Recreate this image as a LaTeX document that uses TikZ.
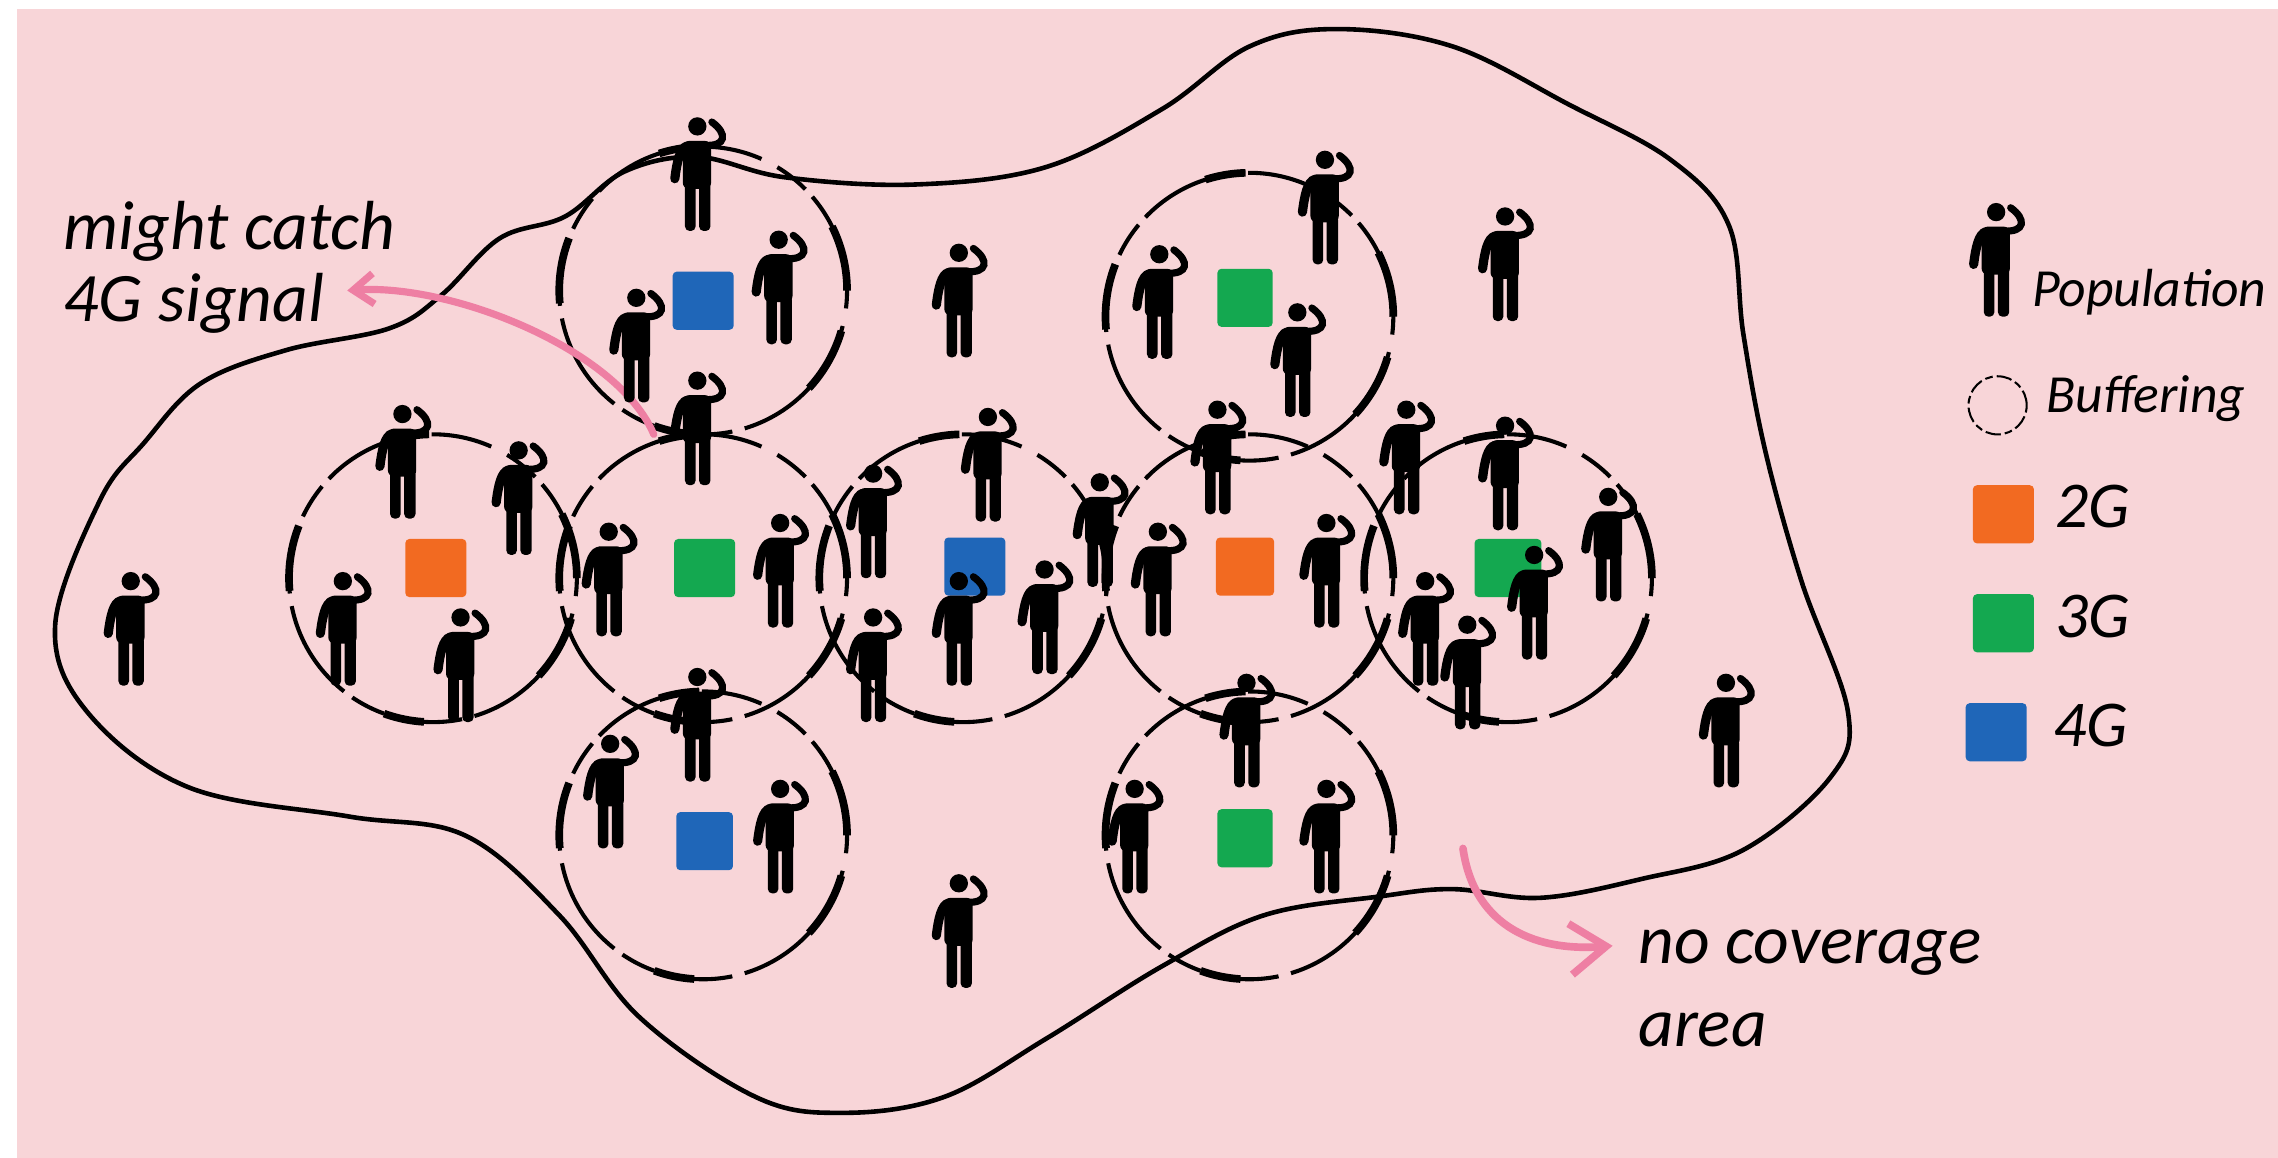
\documentclass[tikz,border=0pt]{standalone}
\usepackage{fontspec}
\setmainfont{Carlito}
\usetikzlibrary{arrows.meta}

\definecolor{bgpink}{HTML}{F8D5D8}
\definecolor{notepink}{HTML}{EE7FA3}
\definecolor{gtwo}{HTML}{F26A21}
\definecolor{gthree}{HTML}{14A850}
\definecolor{gfour}{HTML}{1F66B8}

\tikzset{person/.pic={
	\fill (0,0) circle [radius=6.3];
	\fill [rounded corners=1.2pt] (-10,10) rectangle (9.5,43);
	\fill [rounded corners=0.9pt] (-8.5,38) rectangle (-1.2,72);
	\fill [rounded corners=0.9pt] (1.2,38) rectangle (9,72);
	\draw [line width=1.8pt, line cap=round] (-7,13.5) .. controls (-12,15) and (-14,24) .. (-15.5,36);
	\draw [line width=1.4pt, line cap=round] (5,13) .. controls (20,14) and (21,5) .. (10,-3);
}}

\begin{document}
\begin{tikzpicture}[x=0.01cm, y=-0.01cm]
	\tikzstyle{buffcircle} = [circle, draw, inner sep=0pt, minimum size=1.98cm, line width=0.8pt,
		dash pattern=on 20pt off 2pt on 7pt off 3.5pt on 12pt off 2.5pt,
		preaction={draw, line width=1.5pt, dash pattern=on 13pt off 32pt on 8pt off 25pt}]
	\tikzstyle{buffkey} = [circle, draw, inner sep=0pt, minimum size=0.4cm, line width=0.4pt, dash pattern=on 3pt off 0.8pt on 1.5pt off 0.8pt]
	\tikzstyle{gbox} = [rectangle, inner sep=0pt, minimum width=0.42cm, minimum height=0.40cm, rounded corners=0.8pt]
	\tikzstyle{coverage} = [line width=0.9pt, line join=round]
	\tikzstyle{note} = [anchor=base west, inner sep=0pt, font=\fontsize{13.6}{16}\selectfont\itshape]
	\tikzstyle{keytext} = [anchor=base west, inner sep=0pt, font=\fontsize{10.5}{12}\selectfont\itshape]
	\tikzstyle{gtext} = [anchor=base west, inner sep=0pt, font=\fontsize{12.8}{16}\selectfont\itshape]
	\tikzstyle{notearrow} = [notepink, line width=1.4pt, line cap=round, ->, >={Straight Barb[length=4pt, width=6pt]}]
	\tikzstyle{bigarrow} = [notepink, line width=1.5pt, line cap=round, ->, >={Straight Barb[length=7pt, width=10pt]}]

	\useasboundingbox (0,0) rectangle (1568,797);
	\fill [bgpink] (12,6) rectangle (1568,797);

	% no coverage outline
	\draw [coverage] plot [smooth cycle, tension=0.6] coordinates {
		(480,108) (540,122) (630,127) (720,115) (800,75) (860,32) (920,20) (1000,32)
		(1080,72) (1150,110) (1190,155) (1200,230) (1215,310) (1240,400) (1272,490)
		(1260,535) (1200,585) (1130,605) (1060,618) (1000,612) (950,617) (870,630)
		(800,665) (720,715) (650,755) (580,766) (520,755) (440,700) (385,630) (320,575)
		(240,562) (130,542) (60,490) (38,430) (69,344) (99,305) (138,264) (197,241)
		(268,226) (304,203) (344,164) (389,149) (430,118)};

	% cells
	\node [buffcircle] (celltop) at (484,200) {};
	\node [buffcircle] (celltopright) at (860,218) {};
	\node [buffcircle] (cellleft) at (298,398) {};
	\node [buffcircle] (cellcentre) at (484,398) {};
	\node [buffcircle] (cellmiddle) at (663,398) {};
	\node [buffcircle] (cellcentreright) at (860,398) {};
	\node [buffcircle] (cellright) at (1038,398) {};
	\node [buffcircle] (cellbottom) at (484,575) {};
	\node [buffcircle] (cellbottomright) at (860,575) {};

	% towers
	\node [gbox, fill=gfour] (towertop) at (484,207) {};
	\node [gbox, fill=gthree, minimum width=0.38cm] (towertopright) at (857,205) {};
	\node [gbox, fill=gtwo] (towerleft) at (300,391) {};
	\node [gbox, fill=gthree] (towercentre) at (485,391) {};
	\node [gbox, fill=gfour] (towermiddle) at (671,390) {};
	\node [gbox, fill=gtwo, minimum width=0.40cm] (towercentreright) at (857,390) {};
	\node [gbox, fill=gthree, minimum width=0.46cm] (towerright) at (1038,391) {};
	\node [gbox, fill=gfour, minimum width=0.39cm] (towerbottom) at (485,579) {};
	\node [gbox, fill=gthree, minimum width=0.38cm] (towerbottomright) at (857,577) {};

	% labels and arrows
	\node [note] (might) at (43,172) {might catch};
	\node [note] (signal) at (43,221) {4G signal};
	\node [note] (nocover) at (1127,663) {no coverage};
	\node [note] (area) at (1127,720) {area};
	\coordinate (signalstart) at (450,299);
	\coordinate (signalend) at (239,200);
	\coordinate (coverstart) at (1007,584);
	\coordinate (coverend) at (1110,651);
	\draw [notearrow] (signalstart) .. controls (425,240) and (310,195) .. (signalend);
	\draw [bigarrow] (coverstart) .. controls (1015,640) and (1060,655) .. (coverend);

	% people
	\pic at (480,87) {person};
	\pic at (536,165) {person};
	\pic at (438,205) {person};
	\pic at (480,262) {person};
	\pic at (660,174) {person};
	\pic at (912,110) {person};
	\pic at (798,175) {person};
	\pic at (893,215) {person};
	\pic at (1036,149) {person};
	\pic at (277,285) {person};
	\pic at (357,310) {person};
	\pic at (236,400) {person};
	\pic at (317,425) {person};
	\pic at (419,366) {person};
	\pic at (537,360) {person};
	\pic at (601,326) {person};
	\pic at (680,287) {person};
	\pic at (757,332) {person};
	\pic at (660,400) {person};
	\pic at (719,392) {person};
	\pic at (601,425) {person};
	\pic at (838,282) {person};
	\pic at (797,366) {person};
	\pic at (913,360) {person};
	\pic at (968,282) {person};
	\pic at (1036,293) {person};
	\pic at (1107,342) {person};
	\pic at (1056,382) {person};
	\pic at (981,400) {person};
	\pic at (1010,430) {person};
	\pic at (480,466) {person};
	\pic at (420,512) {person};
	\pic at (537,543) {person};
	\pic at (858,470) {person};
	\pic at (781,543) {person};
	\pic at (913,543) {person};
	\pic at (90,400) {person};
	\pic at (660,608) {person};
	\pic at (1188,470) {person};

	% legend
	\pic at (1374,146) {person};
	\node [keytext] (population) at (1398,211) {Population};
	\node [buffkey] (buffkeyring) at (1375,279) {};
	\node [keytext] (buffering) at (1408,284) {Buffering};
	\node [gbox, fill=gtwo] (twokey) at (1379,354) {};
	\node [gtext] (twotext) at (1414,363) {2G};
	\node [gbox, fill=gthree] (threekey) at (1379,429) {};
	\node [gtext] (threetext) at (1414,439) {3G};
	\node [gbox, fill=gfour] (fourkey) at (1374,504) {};
	\node [gtext] (fourtext) at (1413,514) {4G};
\end{tikzpicture}
\end{document}
